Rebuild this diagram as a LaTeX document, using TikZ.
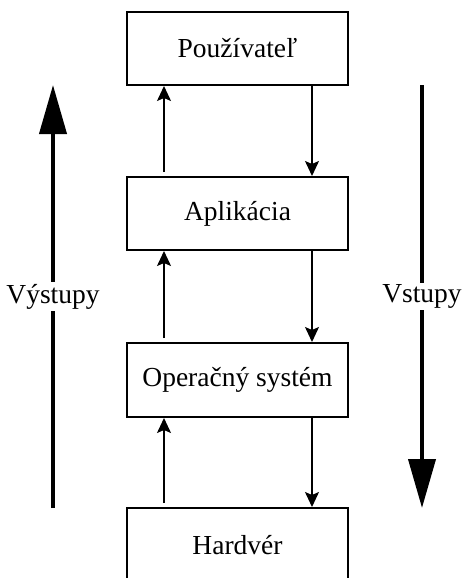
\documentclass[tikz,border=0pt]{standalone}
\usepackage{fontspec}
\setmainfont{Liberation Serif}
\usetikzlibrary{arrows.meta}
\begin{document}
\begin{tikzpicture}[x=1pt,y=-1pt,
  layer/.style={draw,line width=2pt,minimum width=221pt,minimum height=73pt,
    inner sep=0pt,font=\fontsize{27.5}{30}\selectfont},
  flow/.style={line width=1.5pt,-{Stealth[length=15pt,width=14pt,inset=3pt]}},
  bigflow/.style={line width=4pt,-{Triangle[length=49pt,width=27pt]}},
  sidelabel/.style={fill=white,inner sep=2pt,font=\fontsize{27.5}{30}\selectfont}]
  \useasboundingbox (0,0) rectangle (461,578);
  \clip (0,0) rectangle (461,578);

  % the four layers, top to bottom
  \node[layer] (user) at (237.5,48.5) {Používateľ};
  \node[layer] (app)  at (237.5,213.5) {Aplikácia};
  \node[layer,minimum height=74pt] (os) at (237.5,380) {Operačný systém};
  \node[layer,minimum height=74pt] (hw) at (237.5,545) {Hardvér};

  % columns for the upward and downward connectors
  \coordinate (upcol) at (164,0);
  \coordinate (downcol) at (312,0);

  % upward connectors
  \draw[flow,shorten <=4pt] (app.north -| upcol) -- (user.south -| upcol);
  \draw[flow,shorten <=4pt] (os.north -| upcol) -- (app.south -| upcol);
  \draw[flow,shorten <=4pt] (hw.north -| upcol) -- (os.south -| upcol);

  % downward connectors
  \draw[flow] (user.south -| downcol) -- (app.north -| downcol);
  \draw[flow] (app.south -| downcol) -- (os.north -| downcol);
  \draw[flow] (os.south -| downcol) -- (hw.north -| downcol);

  % side arrows
  \coordinate (outlow) at (53,508);
  \coordinate (outhigh) at (53,85);
  \coordinate (inhigh) at (422,85);
  \coordinate (inlow) at (422,508);
  \draw[bigflow] (outlow) -- node[sidelabel] (outlbl) {Výstupy} (outhigh);
  \draw[bigflow] (inhigh) -- node[sidelabel] (inlbl) {Vstupy} (inlow);
\end{tikzpicture}
\end{document}
